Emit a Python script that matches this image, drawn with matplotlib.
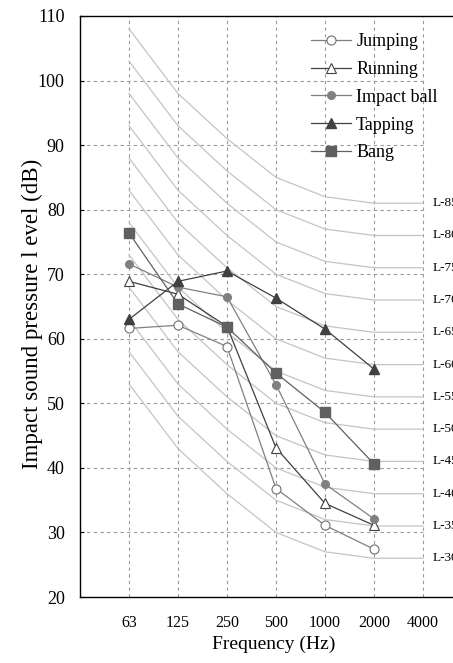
import matplotlib
matplotlib.use('Agg')
import matplotlib.pyplot as plt

plt.rcParams['font.family'] = ['Liberation Serif', 'DejaVu Serif']

# octave bands
freqs = ['63', '125', '250', '500', '1000', '2000', '4000']

# measured levels (dB) at 63..2000 Hz
jumping = [61.6, 62.1, 58.8, 36.8, 31.1, 27.4]
running = [68.9, 66.9, 61.9, 43.1, 34.5, 31.1]
impact_ball = [71.6, 68.0, 66.5, 52.9, 37.5, 32.1]
tapping = [63.0, 68.9, 70.5, 66.3, 61.5, 55.3]
bang = [76.4, 65.4, 61.8, 54.7, 48.6, 40.6]

# L-number rating curves: offsets from N at each band
l_numbers = [85, 80, 75, 70, 65, 60, 55, 50, 45, 40, 35, 30]
l_offsets = [23, 13, 6, 0, -3, -4, -4]

fig = plt.figure(figsize=(4.53, 6.63), dpi=100)
ax = fig.add_axes([80 / 453, 1 - 597 / 663, 392 / 453, 581 / 663])

xs = list(range(len(freqs)))

# grid
for x in xs:
    ax.plot([x, x], [20, 110], ls=(0, (3, 3)), color='#9a9a9a', lw=0.8, zorder=1)
for y in range(30, 110, 10):
    ax.plot([-1, 6], [y, y], ls=(0, (3, 3)), color='#9a9a9a', lw=0.8, zorder=1)

# rating curves
for n in l_numbers:
    vals = [n + o for o in l_offsets]
    ax.plot(xs, vals, color='#c4c4c4', lw=0.9, zorder=2)
    ax.text(6.2, vals[-1], 'L-%d' % n, fontsize=9.5, va='center', ha='left', clip_on=False)

x6 = xs[:6]
ax.plot(x6, jumping, color='#808080', lw=0.9, marker='o', ms=6.5, mfc='white', mec='#707070',
        mew=0.8, label='Jumping', zorder=5)
ax.plot(x6, running, color='#404040', lw=0.9, marker='^', ms=7.5, mfc='white', mec='#404040',
        mew=0.8, label='Running', zorder=5)
ax.plot(x6, impact_ball, color='#808080', lw=0.9, marker='o', ms=5.5, mfc='#808080', mec='#808080',
        label='Impact ball', zorder=5)
ax.plot(x6, tapping, color='#404040', lw=0.9, marker='^', ms=7.5, mfc='#404040', mec='#404040',
        label='Tapping', zorder=5)
ax.plot(x6, bang, color='#606060', lw=0.9, marker='s', ms=6.5, mfc='#606060', mec='#606060',
        label='Bang', zorder=5)

ax.set_xlim(-1, 7)
ax.set_ylim(20, 110)
ax.set_xticks(xs)
ax.set_xticklabels(freqs, fontsize=11.5)
ax.set_yticks(range(20, 111, 10))
ax.tick_params(axis='x', length=0, pad=13)
ax.tick_params(axis='y', direction='in', length=3, labelsize=13, pad=11)
ax.set_xlabel('Frequency (Hz)', fontsize=14)
ax.xaxis.set_label_coords(0.495, -0.067)
ax.set_ylabel('Impact sound pressure l evel (dB)', fontsize=16.5)
ax.yaxis.set_label_coords(-0.094, 0.487)

for s in ax.spines.values():
    s.set_linewidth(1.0)

fig.legend(loc='upper left', bbox_to_anchor=(302 / 453, 1 - 24 / 663), frameon=False,
           fontsize=13, handlelength=2.2, labelspacing=0.6, borderpad=0, handletextpad=0.3)

fig.savefig('out.png', dpi=100)
